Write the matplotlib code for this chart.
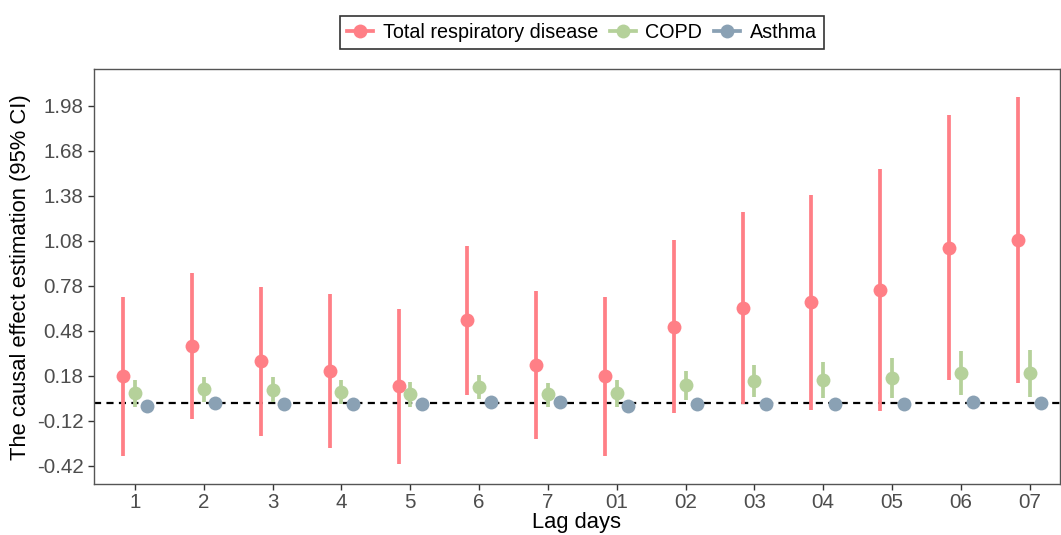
import matplotlib
matplotlib.use("Agg")
import matplotlib.pyplot as plt
from matplotlib.lines import Line2D
import numpy as np

plt.rcParams['font.family'] = ['Liberation Sans', 'DejaVu Sans']

categories = ["1", "2", "3", "4", "5", "6", "7", "01", "02", "03", "04", "05", "06", "07"]
series = ["Total respiratory disease", "COPD", "Asthma"]

total_est = [0.178, 0.380, 0.276, 0.214, 0.109, 0.553, 0.251, 0.180, 0.505, 0.633, 0.669, 0.753, 1.033, 1.083]
total_low = [-0.355, -0.109, -0.222, -0.300, -0.407, 0.053, -0.244, -0.355, -0.071, -0.009, -0.047, -0.053, 0.149, 0.129]
total_high = [0.703, 0.867, 0.771, 0.725, 0.627, 1.047, 0.745, 0.703, 1.083, 1.271, 1.387, 1.558, 1.918, 2.038]

copd_est = [0.067, 0.089, 0.085, 0.071, 0.056, 0.107, 0.056, 0.067, 0.120, 0.145, 0.151, 0.167, 0.200, 0.198]
copd_low = [-0.027, 0.007, 0.007, -0.011, -0.027, 0.024, -0.031, -0.027, 0.020, 0.038, 0.033, 0.029, 0.053, 0.038]
copd_high = [0.151, 0.169, 0.169, 0.151, 0.140, 0.185, 0.133, 0.151, 0.211, 0.251, 0.269, 0.298, 0.342, 0.353]

asthma_est = [-0.020, -0.002, -0.006, -0.006, -0.011, 0.007, 0.002, -0.020, -0.009, -0.006, -0.006, -0.009, 0.002, -0.002]
asthma_low = [-0.032, -0.014, -0.018, -0.018, -0.023, -0.005, -0.010, -0.032, -0.021, -0.018, -0.018, -0.021, -0.010, -0.014]
asthma_high = [-0.008, 0.010, 0.006, 0.006, 0.001, 0.019, 0.014, -0.008, 0.003, 0.006, 0.006, 0.003, 0.014, 0.010]

yticks = [-0.42, -0.12, 0.18, 0.48, 0.78, 1.08, 1.38, 1.68, 1.98]

colors = ["#FF7F86", "#B5D19A", "#8AA1B4"]
offsets = [-0.17, 0.0, 0.17]

fig = plt.figure(figsize=(10.61, 5.35), dpi=100)
ax = fig.add_axes([0.0886, 0.0947, 0.9104, 0.7763])

x = np.arange(1, len(categories) + 1)
ax.axhline(0, color="black", lw=1.6, ls=(0, (3.2, 2.4)), zorder=1)

data = [(total_est, total_low, total_high), (copd_est, copd_low, copd_high), (asthma_est, asthma_low, asthma_high)]
for (est, lo, hi), col, off in zip(data, colors, offsets):
    xs = x + off
    ax.vlines(xs, lo, hi, color=col, lw=2.7, zorder=2)
    ax.plot(xs, est, 'o', color=col, markersize=10, markeredgewidth=0, zorder=3)

ax.set_xlim(0.405, 14.44)
ax.set_ylim(-0.544, 2.225)
ax.set_xticks(x)
ax.set_xticklabels(categories)
ax.set_yticks(yticks)
ax.set_yticklabels([f"{v:.2f}" for v in yticks])
ax.tick_params(axis='both', labelsize=14.8, colors="#4D4D4D", length=4, width=1, color="#333333")
ax.tick_params(axis='x', pad=2)
ax.set_xlabel("Lag days", fontsize=15.8, color="black", labelpad=0)
ax.set_ylabel("The causal effect estimation (95% CI)", fontsize=15.8, color="black", labelpad=4)
for s in ax.spines.values():
    s.set_color("#555555")
    s.set_linewidth(1.0)

handles = [Line2D([0], [0], color=c, lw=2.7, marker='o', markersize=10, markeredgewidth=0) for c in colors]
leg = fig.legend(handles, series, loc="center", bbox_to_anchor=(582 / 1061, 1 - 32.5 / 535),
                 ncol=3, fontsize=14.2, frameon=True, fancybox=False, edgecolor="black",
                 handlelength=1.3, handletextpad=0.5, columnspacing=0.6, borderpad=0.35)
leg.get_frame().set_linewidth(1.2)

fig.savefig("out.png", dpi=100)
